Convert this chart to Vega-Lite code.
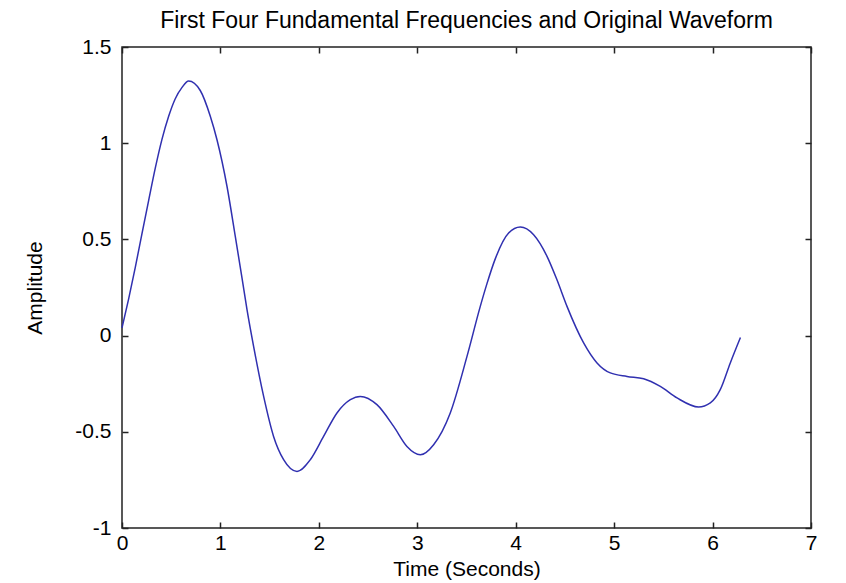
{
  "$schema": "https://vega.github.io/schema/vega-lite/v6.json",
  "width": 689,
  "height": 481,
  "autosize": "none",
  "padding": {"left": 122, "top": 47, "right": 35, "bottom": 55},
  "background": "white",
  "title": {
    "text": "First Four Fundamental Frequencies and Original Waveform",
    "font": "Liberation Sans",
    "fontSize": 23,
    "fontWeight": "normal",
    "color": "black",
    "offset": 3,
    "anchor": "middle"
  },
  "config": {
    "view": {"stroke": "#222222", "strokeWidth": 1.5},
    "axis": {
      "domain": false,
      "grid": false,
      "ticks": true,
      "tickSize": 6,
      "offset": -6,
      "labelFlush": false,
      "tickColor": "#222222",
      "tickWidth": 1.5,
      "labelFont": "Liberation Sans",
      "labelFontSize": 21,
      "labelColor": "black",
      "titleFont": "Liberation Sans",
      "titleFontSize": 21,
      "titleFontWeight": "normal",
      "titleColor": "black"
    }
  },
  "data": {
    "values": [
      {"t": 0, "y": 0.04},
      {"t": 0.067, "y": 0.19},
      {"t": 0.135, "y": 0.355},
      {"t": 0.203, "y": 0.53},
      {"t": 0.27, "y": 0.7},
      {"t": 0.338, "y": 0.87},
      {"t": 0.406, "y": 1.02},
      {"t": 0.474, "y": 1.14},
      {"t": 0.54, "y": 1.23},
      {"t": 0.61, "y": 1.29},
      {"t": 0.677, "y": 1.323},
      {"t": 0.795, "y": 1.274},
      {"t": 0.897, "y": 1.14},
      {"t": 0.965, "y": 1.018},
      {"t": 1.067, "y": 0.775},
      {"t": 1.151, "y": 0.516},
      {"t": 1.219, "y": 0.3},
      {"t": 1.27, "y": 0.135},
      {"t": 1.337, "y": -0.056},
      {"t": 1.439, "y": -0.316},
      {"t": 1.54, "y": -0.524},
      {"t": 1.642, "y": -0.645},
      {"t": 1.778, "y": -0.706},
      {"t": 1.913, "y": -0.645},
      {"t": 2.048, "y": -0.524},
      {"t": 2.184, "y": -0.402},
      {"t": 2.32, "y": -0.333},
      {"t": 2.421, "y": -0.316},
      {"t": 2.59, "y": -0.359},
      {"t": 2.76, "y": -0.472},
      {"t": 2.895, "y": -0.576},
      {"t": 3.031, "y": -0.619},
      {"t": 3.166, "y": -0.567},
      {"t": 3.335, "y": -0.402},
      {"t": 3.505, "y": -0.108},
      {"t": 3.64, "y": 0.152},
      {"t": 3.708, "y": 0.27},
      {"t": 3.793, "y": 0.4},
      {"t": 3.928, "y": 0.533},
      {"t": 4.047, "y": 0.564},
      {"t": 4.182, "y": 0.524},
      {"t": 4.318, "y": 0.412},
      {"t": 4.419, "y": 0.29},
      {"t": 4.521, "y": 0.152},
      {"t": 4.69, "y": -0.038},
      {"t": 4.826, "y": -0.142},
      {"t": 4.961, "y": -0.194},
      {"t": 5.131, "y": -0.212},
      {"t": 5.3, "y": -0.224},
      {"t": 5.469, "y": -0.264},
      {"t": 5.639, "y": -0.324},
      {"t": 5.858, "y": -0.371},
      {"t": 5.977, "y": -0.35},
      {"t": 6.078, "y": -0.281},
      {"t": 6.18, "y": -0.142},
      {"t": 6.283, "y": -0.01}
    ]
  },
  "layer": [
    {
      "mark": {"type": "line", "color": "#3030b0", "strokeWidth": 1.5, "interpolate": "monotone"},
      "encoding": {
        "x": {
          "field": "t", "type": "quantitative",
          "scale": {"domain": [0, 7], "nice": false, "zero": false},
          "axis": {
            "orient": "bottom",
            "values": [0, 1, 2, 3, 4, 5, 6, 7],
            "format": "d",
            "labelPadding": 4,
            "title": "Time (Seconds)",
            "titleX": 344.5,
            "titleY": 47,
            "titleBaseline": "middle",
            "titleAlign": "center"
          }
        },
        "y": {
          "field": "y", "type": "quantitative",
          "scale": {"domain": [-1, 1.5], "nice": false, "zero": false},
          "axis": {
            "orient": "left",
            "values": [-1, -0.5, 0, 0.5, 1, 1.5],
            "labelExpr": "datum.value < 0 ? '-' + format(-datum.value, '.2~f') : format(datum.value, '.2~f')",
            "labelPadding": 11,
            "title": "Amplitude",
            "titleX": -93,
            "titleY": 240.5,
            "titleAngle": -90,
            "titleBaseline": "middle",
            "titleAlign": "center"
          }
        }
      }
    },
    {
      "mark": {"type": "line", "opacity": 0},
      "encoding": {
        "x": {
          "field": "t", "type": "quantitative",
          "scale": {"domain": [0, 7], "nice": false, "zero": false},
          "axis": {"orient": "top", "values": [0, 1, 2, 3, 4, 5, 6, 7], "labels": false, "title": null}
        },
        "y": {
          "field": "y", "type": "quantitative",
          "scale": {"domain": [-1, 1.5], "nice": false, "zero": false},
          "axis": {"orient": "right", "values": [-1, -0.5, 0, 0.5, 1, 1.5], "labels": false, "title": null}
        }
      }
    }
  ],
  "resolve": {"axis": {"x": "independent", "y": "independent"}}
}
